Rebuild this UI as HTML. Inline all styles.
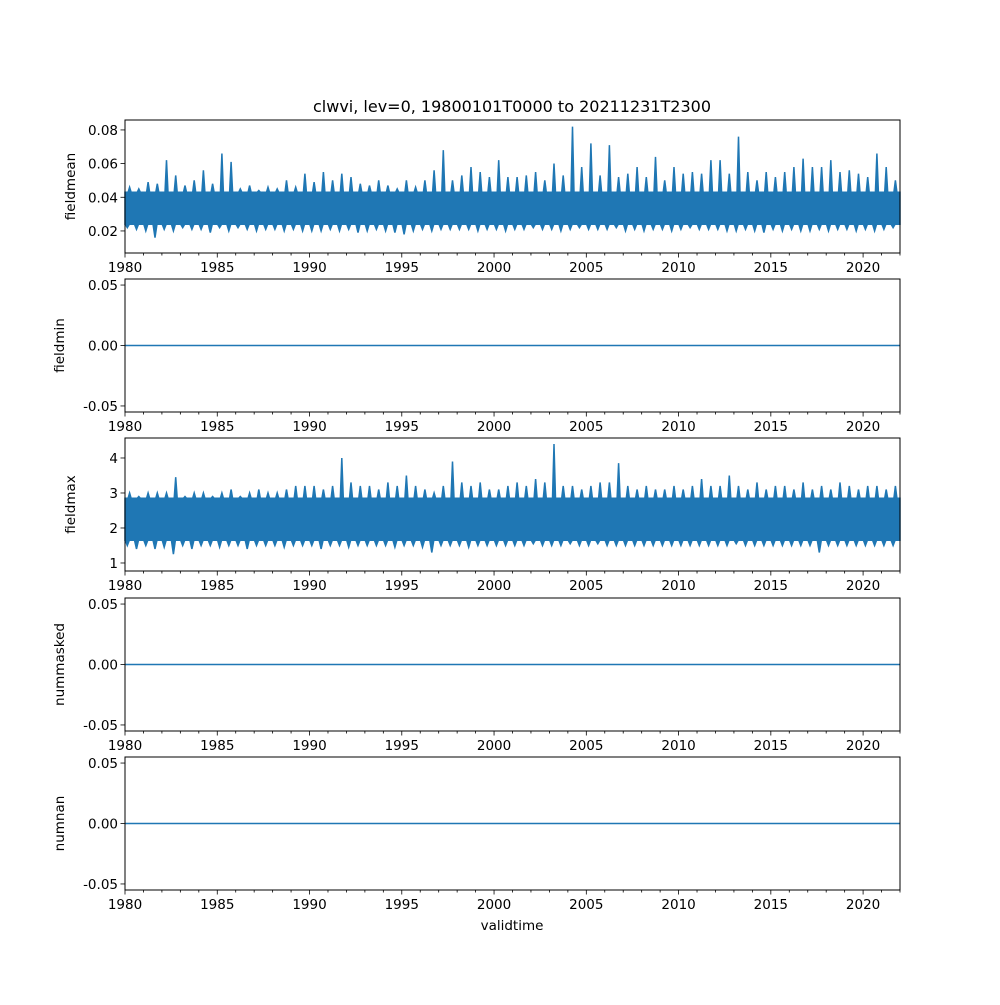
<!DOCTYPE html>
<html><head><meta charset="utf-8"><style>
body{margin:0;background:#fff}
svg text{font-family:"DejaVu Sans","Liberation Sans",sans-serif;fill:#000}
</style></head><body>
<svg id="fig" width="1000" height="1000" viewBox="0 0 1000 1000" xmlns="http://www.w3.org/2000/svg">
<rect width="1000" height="1000" fill="#fff"/>
<text x="512" y="112" font-size="16" text-anchor="middle">clwvi, lev=0, 19800101T0000 to 20211231T2300</text>
<text x="512" y="930" font-size="13.5" text-anchor="middle">validtime</text>
</svg>
<script>
const meanHigh=[.046,.045,.049,.048,.062,.053,.047,.050,.056,.048,.066,.061,.045,.047,.044,.046,.045,.050,.046,.054,.049,.055,.050,.054,.052,.048,.047,.050,.047,.045,.050,.046,.050,.056,.068,.050,.053,.058,.055,.052,.062,.052,.052,.053,.055,.050,.060,.053,.082,.058,.072,.053,.071,.052,.054,.058,.052,.064,.050,.058,.054,.055,.054,.062,.062,.054,.076,.055,.050,.055,.052,.055,.058,.063,.058,.058,.062,.055,.056,.054,.052,.066,.058,.050];
const meanLow=[.022,.021,.020,.016,.021,.020,.022,.021,.021,.019,.022,.020,.022,.021,.020,.021,.021,.020,.021,.020,.020,.020,.021,.020,.021,.019,.020,.021,.020,.019,.018,.020,.021,.020,.021,.021,.021,.021,.020,.021,.021,.020,.021,.021,.022,.021,.021,.020,.021,.022,.021,.021,.021,.022,.020,.021,.020,.021,.021,.020,.021,.022,.021,.021,.021,.020,.020,.021,.020,.019,.021,.020,.021,.020,.020,.021,.020,.021,.021,.020,.021,.020,.021,.022];
const meanTypTop=0.043;
const meanTypLow=0.024;
const maxHigh=[3.0,2.9,3.0,3.0,3.0,3.45,2.9,3.0,3.0,2.9,3.0,3.1,2.9,3.0,3.1,3.0,3.0,3.1,3.2,3.2,3.2,3.1,3.2,4.0,3.3,3.2,3.2,3.1,3.3,3.2,3.5,3.2,3.1,3.0,3.2,3.9,3.3,3.2,3.3,3.1,3.1,3.2,3.3,3.2,3.4,3.3,4.4,3.2,3.2,3.1,3.2,3.3,3.3,3.85,3.2,3.1,3.2,3.1,3.1,3.2,3.1,3.2,3.4,3.2,3.2,3.5,3.2,3.1,3.3,3.1,3.2,3.2,3.1,3.3,3.1,3.2,3.1,3.3,3.2,3.1,3.2,3.2,3.1,3.2];
const maxLow=[1.5,1.4,1.5,1.4,1.45,1.25,1.5,1.4,1.5,1.5,1.45,1.5,1.5,1.4,1.5,1.5,1.5,1.45,1.5,1.5,1.5,1.4,1.5,1.5,1.45,1.5,1.5,1.5,1.5,1.45,1.5,1.5,1.45,1.3,1.5,1.5,1.5,1.45,1.5,1.5,1.5,1.5,1.5,1.5,1.55,1.5,1.5,1.5,1.55,1.5,1.5,1.55,1.5,1.5,1.5,1.5,1.5,1.5,1.5,1.5,1.5,1.5,1.5,1.5,1.5,1.5,1.55,1.5,1.5,1.5,1.5,1.5,1.5,1.5,1.5,1.3,1.5,1.5,1.5,1.5,1.5,1.5,1.5,1.5];
const maxTypTop=2.85;
const maxTypLow=1.65;
const xTicks=[1980,1985,1990,1995,2000,2005,2010,2015,2020];
const meanTicks=[0.02,0.04,0.06,0.08];
const zeroTicks=[-0.05,0,0.05];
const maxTicks=[1,2,3,4];
const panels=[
 {name:'fieldmean',top:120,ymin:0.0069,ymax:0.0859,ticks:meanTicks,fmt:v=>v.toFixed(2),hi:meanHigh,lo:meanLow,tt:meanTypTop,tl:meanTypLow},
 {name:'fieldmin',top:279,ymin:-0.055,ymax:0.055,ticks:zeroTicks,fmt:v=>v.toFixed(2),zero:true},
 {name:'fieldmax',top:438,ymin:0.771,ymax:4.571,ticks:maxTicks,fmt:v=>String(v),hi:maxHigh,lo:maxLow,tt:maxTypTop,tl:maxTypLow},
 {name:'nummasked',top:598,ymin:-0.055,ymax:0.055,ticks:zeroTicks,fmt:v=>v.toFixed(2),zero:true},
 {name:'numnan',top:757,ymin:-0.055,ymax:0.055,ticks:zeroTicks,fmt:v=>v.toFixed(2),zero:true}
];
const L=125,R=900,H=133,X0=1980,X1=2022,C='#1f77b4';
const svg=document.getElementById('fig');const NS='http://www.w3.org/2000/svg';
function mk(t,a,p){const e=document.createElementNS(NS,t);for(const k in a)e.setAttribute(k,a[k]);(p||svg).appendChild(e);return e;}
const xs=v=>L+(v-X0)/(X1-X0)*(R-L);
panels.forEach(p=>{
 const g=mk('g',{});
 
 
 const ys=v=>p.top+H-(v-p.ymin)/(p.ymax-p.ymin)*H;
 if(p.zero){
  const ln=mk('line',{x1:L,x2:R,y1:ys(0),y2:ys(0),stroke:C,'stroke-width':1.5},g);
  
  
 } else {
  const f=v=>v.toFixed(1);
  const top=[],bot=[];
  const n=p.hi.length,w=(X1-X0)/n;
  top.push(f(xs(X0))+','+f(ys(Math.min(p.hi[0],p.tt))));
  p.hi.forEach((v,i)=>{const xc=xs(X0+(i+0.5)*w),b=Math.min(v,p.tt);
   top.push(f(xc-1.5)+','+f(ys(b)));top.push(f(xc)+','+f(ys(v)));top.push(f(xc+1.5)+','+f(ys(b)));});
  top.push(f(xs(X1))+','+f(ys(Math.min(p.hi[n-1],p.tt))));
  const m=p.lo.length,w2=(X1-X0)/m;
  bot.push(f(xs(X0))+','+f(ys(Math.max(p.lo[0],p.tl))));
  p.lo.forEach((v,i)=>{const xc=xs(X0+(i+0.25)*w2),b=Math.max(v,p.tl);
   bot.push(f(xc-2)+','+f(ys(b)));bot.push(f(xc)+','+f(ys(v)));bot.push(f(xc+2)+','+f(ys(b)));});
  bot.push(f(xs(X1))+','+f(ys(Math.max(p.lo[m-1],p.tl))));
  const poly=mk('polygon',{points:top.concat(bot.reverse()).join(' '),fill:C,stroke:C,'stroke-width':1.5,'stroke-linejoin':'miter'},g);
  
  
 }
 const fr=mk('rect',{x:L,y:p.top,width:R-L,height:H,fill:'none',stroke:'#000','stroke-width':1},g);
 
 
 const b=p.top+H;
 for(let yr=X0;yr<=X1;yr++){const major=xTicks.includes(yr);mk('line',{x1:xs(yr),x2:xs(yr),y1:b,y2:b+(major?4.5:2.5),stroke:'#000','stroke-width':0.8},g);}
 xTicks.forEach(t=>{const tx=mk('text',{x:xs(t),y:b+19,'font-size':13.5,'text-anchor':'middle'},g);tx.textContent=t;
  
  });
 p.ticks.forEach(t=>{const y=ys(t);mk('line',{x1:L-4.5,x2:L,y1:y,y2:y,stroke:'#000','stroke-width':0.8},g);
  const tx=mk('text',{x:L-7,y:y+5,'font-size':13.5,'text-anchor':'end'},g);tx.textContent=p.fmt(t);
  
  });
 const yl=mk('text',{x:0,y:0,'font-size':13.5,'text-anchor':'middle',transform:`translate(${p.zero?64:75},${p.top+H/2}) rotate(-90)`},g);
 yl.textContent=p.name;
 
 
});
</script>
</body></html>
